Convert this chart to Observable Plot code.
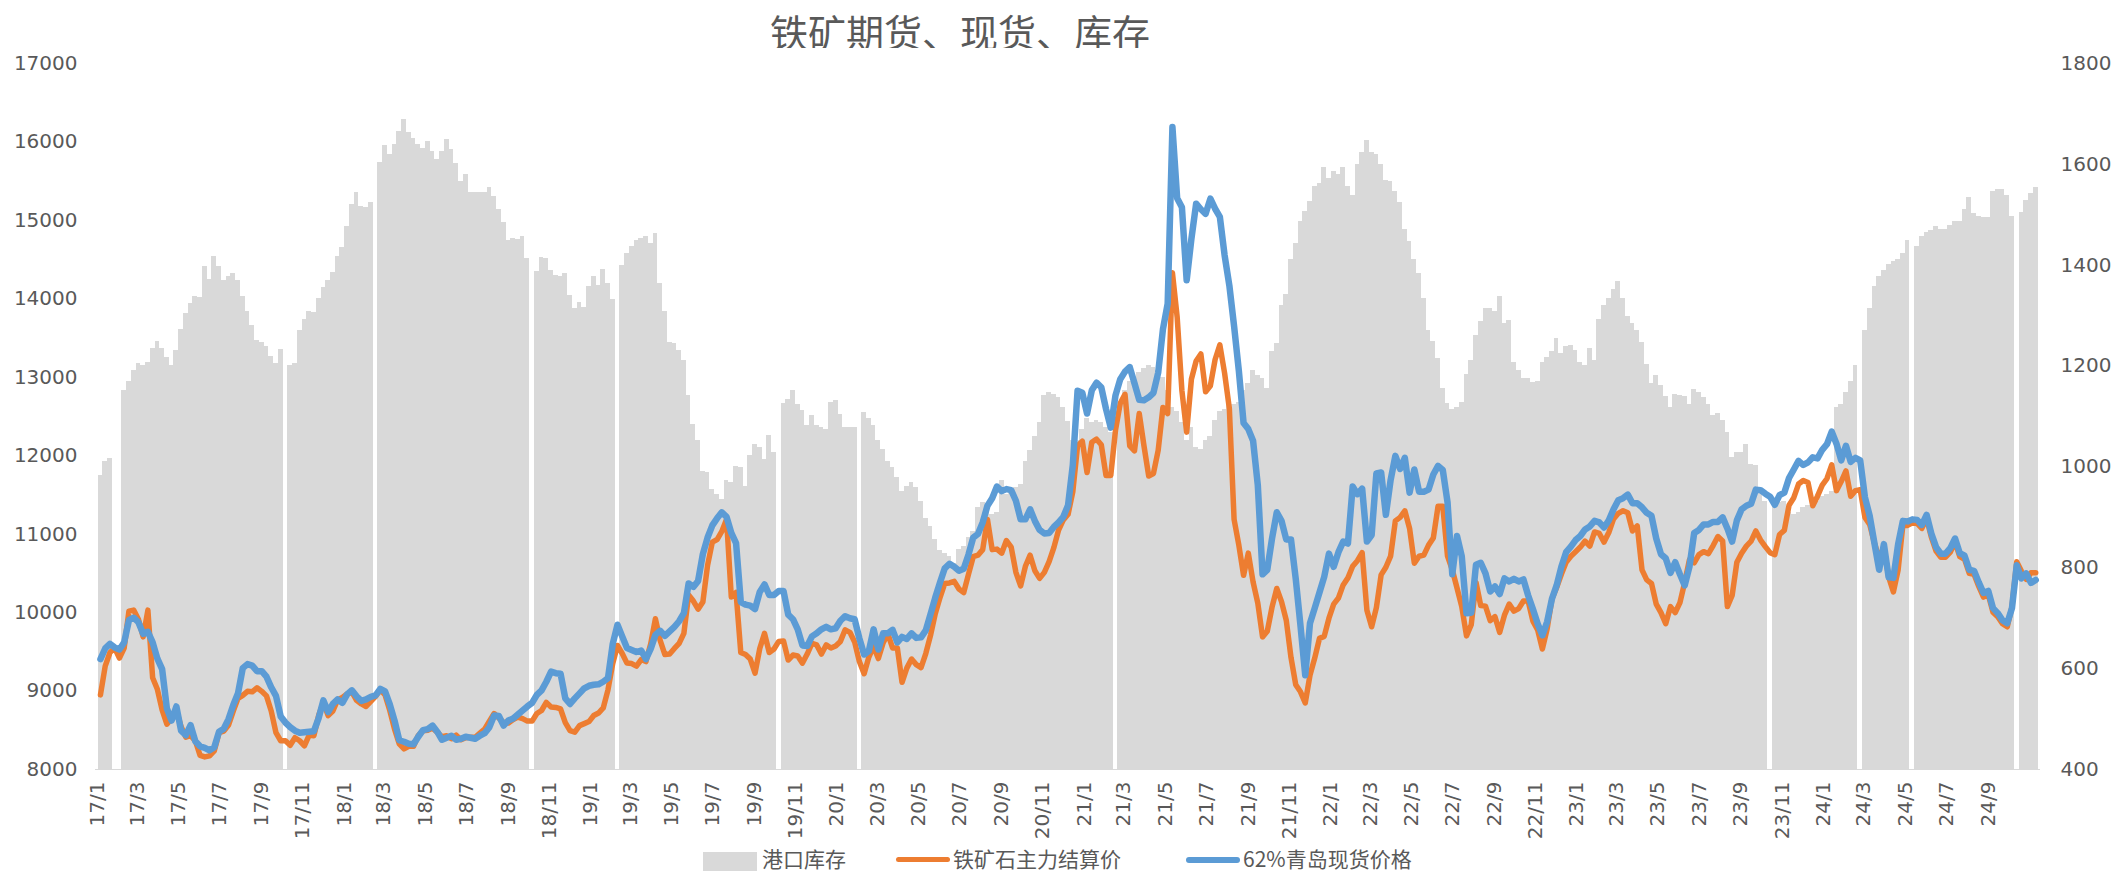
<!DOCTYPE html>
<html><head><meta charset="utf-8">
<script src="https://cdn.jsdelivr.net/npm/d3@7"></script>
<script src="https://cdn.jsdelivr.net/npm/@observablehq/plot@0.6"></script>
<style>
body{margin:0;background:#fff;}
#wrap{position:relative;width:2113px;height:874px;overflow:hidden;font-family:"Noto Sans CJK SC",sans-serif;color:#595959;}
#title{position:absolute;top:8px;left:960px;transform:translateX(-50%);font-size:38px;line-height:46px;white-space:nowrap;}
#chart{position:absolute;top:48px;left:0;}
.lg{position:absolute;}
.lt{position:absolute;top:843px;font-size:21px;line-height:30px;white-space:nowrap;}
</style></head>
<body><div id="wrap">
<div id="title"></div>
<div id="chart"></div>
<div id="legend"></div>
</div>
<script>
const titleText = "铁矿期货、现货、库存";
const seriesNames = ["港口库存", "铁矿石主力结算价", "62%青岛现货价格"];
const seriesColors = ["#d9d9d9", "#ED7D31", "#5B9BD5"];
const firstObs = "2017-01-01T10:00:00Z";  // first weekly observation
const obsStepDays = 7.0256;                 // spacing of the weekly observations as drawn
const leftTicks = [8000, 9000, 10000, 11000, 12000, 13000, 14000, 15000, 16000, 17000];
const rightTicks = [400, 600, 800, 1000, 1200, 1400, 1600, 1800];

// 港口库存 (weekly, null = missing)
const inventory = [
11750,11920,11960,null,null,12830,12950,13090,13180,13150,
13190,13370,13460,13370,13250,13150,13340,13610,13810,13940,
14030,14020,14410,14250,14540,14410,14230,14290,14320,14230,
14030,13840,13660,13470,13440,13390,13270,13180,13360,null,
13150,13180,13590,13740,13840,13820,14000,14150,14230,14340,
14540,14650,14920,15200,15360,15180,15170,15230,null,15740,
15960,15840,15970,16130,16280,16120,16050,15970,15920,16000,
15880,15770,15880,16030,15900,15730,15490,15580,15350,15360,
15360,15350,15420,15300,15140,14970,14740,14770,14760,14790,
14510,null,14350,14530,14510,14360,14300,14290,14320,14040,
13880,13950,13890,14160,14290,14170,14380,14200,13990,null,
14420,14580,14670,14750,14770,14790,14710,14830,14190,13840,
13440,13430,13340,13210,12770,12400,12190,11800,11780,11570,
11510,11440,11690,11660,11860,11850,11610,12000,12140,12100,
11950,12260,12040,null,12670,12720,12830,12650,12580,12390,
12510,12390,12360,12330,12680,12700,12520,12360,12360,12360,
null,12550,12480,12390,12190,12080,11920,11850,11720,11540,
11610,11660,11600,11420,11200,11100,10930,10790,10750,10710,
10620,10810,10840,10960,11040,11340,11400,11340,11250,11280,
11690,11510,11540,11600,11630,11920,12070,12240,12420,12770,
12800,12780,12740,12610,12440,12190,12200,12330,12480,12420,
12450,12420,12360,12300,null,12680,12830,12950,13000,13060,
13110,13150,13130,13090,13000,12830,12620,12570,12420,12200,
12360,12100,12080,12190,12240,12450,12570,12590,12680,12650,
12680,12830,12920,13090,13020,12980,12860,13330,13430,13910,
14060,14500,14700,14990,15110,15240,15430,15470,15680,15530,
15620,15580,15680,15430,15320,15710,15870,16020,15870,15840,
15710,15510,15490,15370,15230,14880,14730,14500,14320,14000,
13590,13460,13240,12860,12670,12590,12620,12680,13030,13210,
13530,13710,13880,13880,13840,14030,13690,13720,13190,13090,
12980,12990,12930,12950,13190,13250,13330,13500,13300,13390,
13400,13340,13190,13150,13370,13210,13740,13910,14010,14120,
14220,14010,13770,13680,13600,13440,13160,12920,13020,12890,
12750,12610,12780,12770,12750,12650,12840,12800,12740,12650,
12510,12540,12450,12300,11980,12040,12040,12140,11890,11880,
11570,11420,null,11400,11410,11420,11280,11250,11280,11340,
11370,11400,11420,11480,11510,11540,12620,12650,12800,12950,
13150,null,13590,13880,14160,14290,14360,14440,14470,14500,
14580,14750,null,14670,14790,14850,14870,14920,14890,14890,
14940,14980,14990,15140,15290,15090,15050,15040,15040,15370,
15400,15390,15320,15050,null,15100,15250,15340,15420];

// 铁矿石主力结算价 (weekly samples)
const futures = [
548,605,632,641,621,641,714,716,698,663,
716,582,559,518,490,501,518,485,464,467,
457,428,425,427,437,473,476,488,516,541,
547,555,554,562,555,546,516,473,457,457,
448,463,457,447,468,467,507,533,507,516,
538,543,550,554,537,530,525,535,545,558,
548,517,480,451,441,446,446,467,477,478,
482,474,465,467,461,468,459,463,464,464,
472,480,496,511,502,493,492,499,504,501,
496,496,511,517,533,524,523,520,493,477,
474,487,491,495,507,512,522,558,610,646,
630,611,610,605,618,614,649,699,656,628,
629,640,650,670,746,734,718,732,805,851,
856,872,896,742,751,632,628,619,591,640,
670,632,639,654,655,617,627,625,611,629,
650,647,629,647,641,645,654,677,672,653,
614,590,623,644,620,651,669,641,641,573,
601,619,608,602,630,666,709,741,769,770,
773,758,751,787,822,825,836,896,836,837,
829,854,841,791,764,803,825,794,779,791,
812,840,875,895,906,951,1042,1051,989,1049,
1055,1044,983,983,1073,1126,1144,1042,1032,1106,
1042,982,987,1033,1118,1106,1385,1297,1151,1069,
1174,1210,1224,1149,1161,1213,1242,1186,1116,896,
845,785,829,772,730,663,674,722,759,733,
696,622,568,554,532,587,621,660,664,700,
728,740,766,780,803,814,830,716,683,721,
786,801,823,893,900,913,878,809,823,825,
845,859,922,922,823,796,760,723,665,687,
771,725,724,695,703,672,706,728,714,719,
734,734,694,677,639,679,738,761,787,811,
823,832,841,853,843,871,868,851,870,897,
908,913,909,873,883,796,776,769,728,711,
689,723,711,731,771,816,810,826,832,828,
844,862,853,723,745,811,829,843,853,873,
855,842,830,826,866,874,924,939,966,973,
969,923,942,964,977,1004,953,971,992,942,
953,955,900,886,849,819,840,782,752,796,
885,884,889,888,878,898,861,833,821,821,
831,851,822,817,789,787,763,742,747,712,
703,689,683,723,812,793,777,790,790];

// 62%青岛现货价格 (weekly samples)
const spot = [
619,640,649,642,638,652,696,701,692,669,
673,652,620,599,521,497,525,477,468,488,
456,446,443,438,444,475,481,500,528,551,
601,609,606,595,595,584,563,546,505,493,
484,477,473,474,475,476,502,537,514,530,
539,532,549,557,545,536,539,544,547,560,
555,529,497,458,455,451,450,465,478,480,
487,475,459,463,467,459,461,465,463,461,
467,472,484,507,506,487,497,501,509,517,
525,532,548,557,574,594,591,590,541,530,
541,551,561,566,568,569,574,581,649,687,
664,641,637,633,636,619,639,667,675,665,
674,683,694,710,769,762,774,827,860,884,
898,910,901,869,849,732,727,725,718,752,
767,746,746,754,754,707,698,678,646,645,
664,670,678,683,678,680,695,704,700,698,
660,628,635,678,638,670,670,677,652,663,
659,670,661,662,676,708,741,771,799,808,
802,794,798,826,860,867,890,923,938,961,
952,956,954,933,896,896,916,893,875,868,
869,881,890,901,924,1004,1151,1147,1106,1152,
1167,1158,1115,1078,1142,1174,1189,1198,1166,1133,
1132,1138,1147,1187,1273,1324,1674,1533,1515,1370,
1452,1522,1511,1502,1532,1512,1496,1420,1360,1279,
1191,1087,1075,1052,964,787,796,858,910,893,
856,856,778,685,587,690,720,751,782,828,
802,831,852,848,961,946,957,852,865,987,
989,905,974,1022,996,1018,949,995,951,951,
955,985,1002,994,930,787,863,823,710,711,
806,810,789,753,763,748,779,773,778,773,
777,745,718,689,666,693,738,765,802,831,
842,855,863,876,882,893,890,880,894,916,
934,938,945,928,928,920,909,903,858,827,
819,790,811,787,765,802,869,875,886,886,
891,891,900,878,852,894,916,923,927,955,
954,947,941,925,944,949,978,995,1012,1004,
1009,1019,1017,1034,1045,1070,1046,1013,1042,1010,
1018,1013,940,903,849,796,847,781,780,847,
893,892,896,895,885,905,868,841,828,828,
839,858,829,824,796,794,771,750,754,720,
710,696,690,720,805,779,789,770,776];

const DAY = 864e5;
const t0 = new Date(firstObs).getTime();
const rows = inventory.map((v, i) => ({
  start: new Date(t0 + obsStepDays * i * DAY),
  end: new Date(t0 + obsStepDays * (i + 1) * DAY),
  mid: new Date(t0 + obsStepDays * (i + 0.5) * DAY),
  inv: v, fut: futures[i], spot: spot[i]
}));

// right axis (price) mapped onto the left (inventory) scale
const [L0, L1] = [leftTicks[0], leftTicks[leftTicks.length - 1]];
const [R0, R1] = [rightTicks[0], rightTicks[rightTicks.length - 1]];
const toLeft = p => L0 + (p - R0) * (L1 - L0) / (R1 - R0);
const toRight = v => R0 + (v - L0) * (R1 - R0) / (L1 - L0);

const xTicks = d3.utcMonth.every(2).range(new Date("2017-01-01T00:00:00Z"), new Date("2024-10-01T00:00:00Z"));

const chart = Plot.plot({
  width: 2113, height: 800,
  marginTop: 15, marginBottom: 79, marginLeft: 95, marginRight: 73,
  x: {type: "utc", domain: [new Date("2016-12-28T14:00:00Z"), new Date("2024-11-17T12:00:00Z")]},
  y: {domain: [L0, L1]},
  style: {fontFamily: "DejaVu Sans", fontSize: "20px", color: "#595959", background: "#fff"},
  marks: [
    Plot.rect(rows.filter(d => d.inv != null), {x1: "start", x2: "end", y1: () => L0, y2: "inv", fill: seriesColors[0], inset: 0, shapeRendering: "crispEdges"}),
    Plot.ruleY([L0], {stroke: "#d9d9d9", strokeWidth: 1}),
    Plot.line(rows, {x: "mid", y: d => toLeft(d.fut), stroke: seriesColors[1], strokeWidth: 5.5, strokeLinejoin: "round", strokeLinecap: "round"}),
    Plot.line(rows, {x: "mid", y: d => toLeft(d.spot), stroke: seriesColors[2], strokeWidth: 6.5, strokeLinejoin: "round", strokeLinecap: "round"}),
    Plot.axisY(leftTicks, {anchor: "left", tickSize: 0, tickPadding: 18, label: null, fontSize: 20, tickFormat: d => String(d)}),
    Plot.axisY(rightTicks.map(toLeft), {anchor: "right", tickSize: 0, tickPadding: 20, label: null, fontSize: 20, tickFormat: v => String(Math.round(toRight(v)))}),
    Plot.axisX(xTicks, {anchor: "bottom", tickSize: 0, tickPadding: 12, tickRotate: -90, label: null, fontSize: 20, tickFormat: d3.utcFormat("%y/%-m")})
  ]
});
document.getElementById("chart").appendChild(chart);
document.getElementById("title").textContent = titleText;

// legend
const lg = document.getElementById("legend");
const items = [
  {sw: {left: 703, top: 852, width: 54, height: 19}, tx: 762},
  {sw: {left: 896, top: 857, width: 54, height: 5}, tx: 953},
  {sw: {left: 1186, top: 856.5, width: 54, height: 6}, tx: 1243}
];
items.forEach((it, i) => {
  const s = document.createElement("div");
  s.className = "lg";
  Object.assign(s.style, {left: it.sw.left + "px", top: it.sw.top + "px", width: it.sw.width + "px", height: it.sw.height + "px", background: seriesColors[i], borderRadius: i ? "3px" : "0"});
  lg.appendChild(s);
  const t = document.createElement("div");
  t.className = "lt";
  t.style.left = it.tx + "px";
  t.textContent = seriesNames[i];
  lg.appendChild(t);
});
</script>
</body></html>
